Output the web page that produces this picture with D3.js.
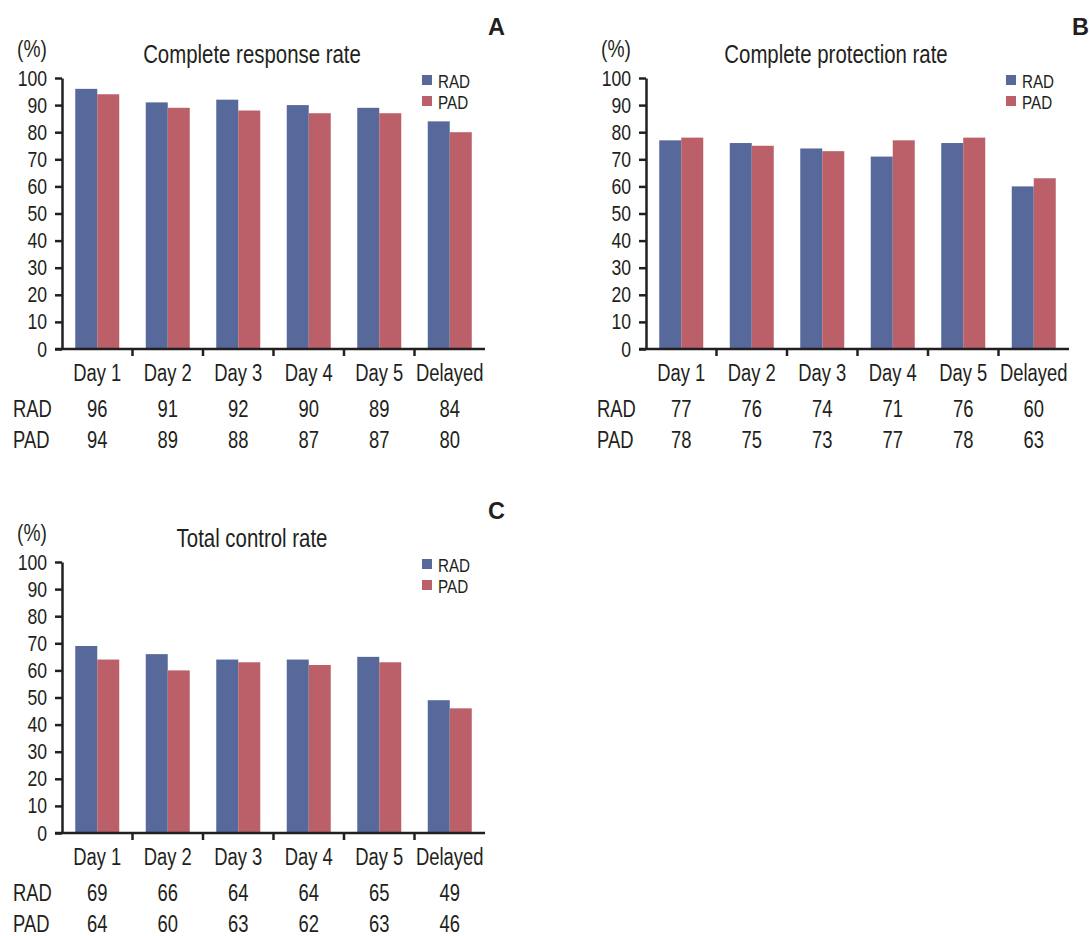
<!DOCTYPE html>
<html>
<head>
<meta charset="utf-8">
<script src="https://cdn.jsdelivr.net/npm/d3@7"></script>
<style>
  html, body { margin: 0; padding: 0; background: #fff; }
  svg text { font-family: "Liberation Sans", Arial, sans-serif; fill: #231f20; }
</style>
</head>
<body>
<svg id="chart" width="1090" height="936"></svg>
<script>
const categories = ["Day 1", "Day 2", "Day 3", "Day 4", "Day 5", "Delayed"];
const seriesNames = ["RAD", "PAD"];
const yTicks = [0, 10, 20, 30, 40, 50, 60, 70, 80, 90, 100];

const titles = ["Complete response rate", "Complete protection rate", "Total control rate"];
const letters = ["A", "B", "C"];

const crRAD = [96, 91, 92, 90, 89, 84];
const crPAD = [94, 89, 88, 87, 87, 80];
const cpRAD = [77, 76, 74, 71, 76, 60];
const cpPAD = [78, 75, 73, 77, 78, 63];
const tcRAD = [69, 66, 64, 64, 65, 49];
const tcPAD = [64, 60, 63, 62, 63, 46];

const colors = { RAD: "#56699a", PAD: "#bb5f68" };
const ink = "#231f20";
const condense = 0.8;

const panels = [
  { title: titles[0], letter: letters[0], rad: crRAD, pad: crPAD, dx: 0, dy: 0 },
  { title: titles[1], letter: letters[1], rad: cpRAD, pad: cpPAD, dx: 584, dy: 0 },
  { title: titles[2], letter: letters[2], rad: tcRAD, pad: tcPAD, dx: 0, dy: 484 }
];

const svg = d3.select("#chart");

const y = d3.scaleLinear().domain([0, 100]).range([349, 78]);
const x = d3.scaleBand().domain(categories).range([62, 485]).padding(0);
const barW = 22;
const xs = d3.scaleBand().domain(seriesNames).range([0, 2 * barW]).padding(0);

panels.forEach(p => {
  const g = svg.append("g").attr("transform", `translate(${p.dx},${p.dy})`);
  const rows = { RAD: p.rad, PAD: p.pad };

  // bars
  seriesNames.forEach(s => {
    g.append("g").selectAll("rect")
      .data(categories.map((c, i) => ({ c, v: rows[s][i] })))
      .join("rect")
      .attr("x", d => x(d.c) + (x.bandwidth() - 2 * barW) / 2 + xs(s))
      .attr("width", xs.bandwidth())
      .attr("y", d => y(d.v))
      .attr("height", d => y(0) - y(d.v))
      .attr("fill", colors[s]);
  });

  // y axis
  const ya = g.append("g").attr("transform", "translate(62,0)")
    .call(d3.axisLeft(y).tickValues(yTicks).tickSize(7).tickPadding(8).tickSizeOuter(0));
  ya.select(".domain").attr("stroke", ink).attr("stroke-width", 2.5);
  ya.selectAll(".tick line").attr("stroke", ink).attr("stroke-width", 2.5);
  ya.selectAll(".tick text").attr("class", "cond")
    .style("font-size", "22px").style("font-family", "'Liberation Sans', Arial, sans-serif")
    .attr("fill", ink);

  // x axis line and boundary ticks
  g.append("line")
    .attr("x1", 62 - 7).attr("x2", x.range()[1])
    .attr("y1", y(0)).attr("y2", y(0))
    .attr("stroke", ink).attr("stroke-width", 2.5);
  g.append("g").selectAll("line")
    .data(categories.slice(1))
    .join("line")
    .attr("x1", d => x(d)).attr("x2", d => x(d))
    .attr("y1", y(0)).attr("y2", y(0) + 7)
    .attr("stroke", ink).attr("stroke-width", 2.5);

  // category labels
  g.append("g").selectAll("text")
    .data(categories)
    .join("text")
    .attr("class", "cond")
    .attr("x", d => x(d) + x.bandwidth() / 2)
    .attr("y", 381)
    .attr("text-anchor", "middle")
    .style("font-size", "23px")
    .text(d => d);

  // data table
  const rowY = { RAD: 416.5, PAD: 448 };
  seriesNames.forEach(s => {
    g.append("text").attr("class", "cond").attr("x", 13).attr("y", rowY[s])
      .style("font-size", "23px").text(s);
    g.append("g").selectAll("text")
      .data(categories.map((c, i) => ({ c, v: rows[s][i] })))
      .join("text")
      .attr("class", "cond")
      .attr("x", d => x(d.c) + x.bandwidth() / 2)
      .attr("y", rowY[s])
      .attr("text-anchor", "middle")
      .style("font-size", "23px")
      .text(d => d.v);
  });

  // title, unit, letter
  g.append("text").attr("class", "cond").attr("x", 252).attr("y", 63).attr("text-anchor", "middle")
    .style("font-size", "25.5px").text(p.title);
  g.append("text").attr("class", "cond").attr("x", 17).attr("y", 57)
    .style("font-size", "24px").text("(%)");
  g.append("text").attr("x", 505).attr("y", 35).attr("text-anchor", "end")
    .style("font-weight", "bold").style("font-size", "23.5px").text(p.letter);

  // legend
  seriesNames.forEach((s, i) => {
    g.append("rect").attr("x", 422).attr("y", 75 + i * 21)
      .attr("width", 10).attr("height", 10).attr("fill", colors[s]);
    g.append("text").attr("class", "cond").attr("x", 438).attr("y", 87.5 + i * 21)
      .style("font-size", "19px").text(s);
  });
});

// horizontally condense text to mimic the condensed typeface of the original
svg.selectAll("text.cond").each(function () {
  const w = this.getComputedTextLength();
  d3.select(this).attr("textLength", w * condense).attr("lengthAdjust", "spacingAndGlyphs");
});
</script>
</body>
</html>
